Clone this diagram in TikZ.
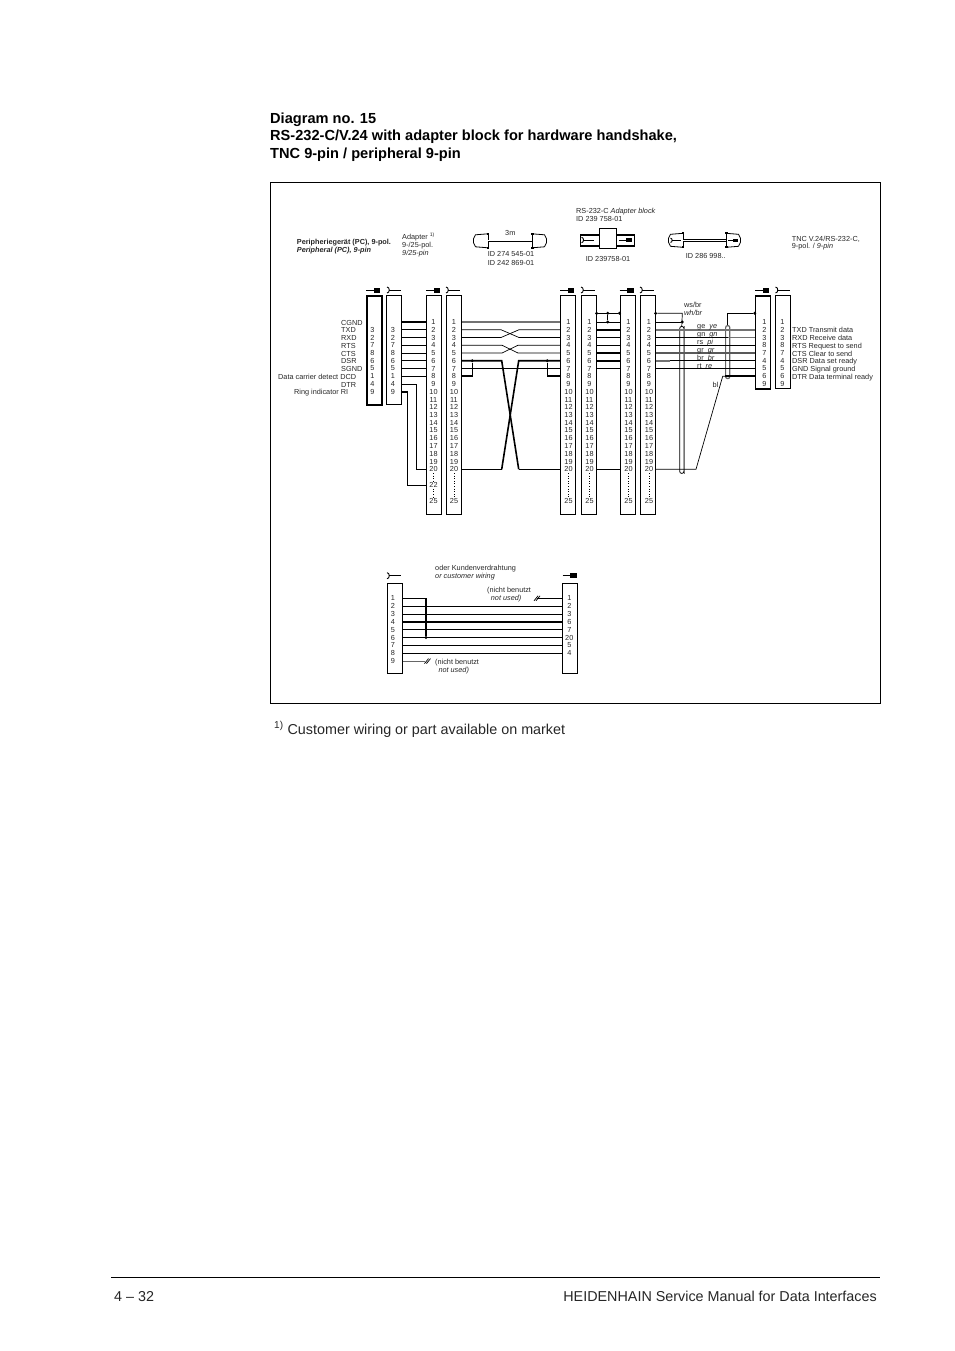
\documentclass[tikz,border=0pt]{standalone}
\usepackage{fontspec}
\setmainfont{Liberation Sans}
\usetikzlibrary{calc}

\newcommand{\smallsize}{\fontsize{7.3}{8.5}\selectfont}

\tikzset{
  malecon/.pic={
    \draw[line width=.9pt] (0,0) -- (8,0);
    \fill (7.5,-2.5) rectangle (14,2.5);
  },
  femalecon/.pic={
    \draw[line width=.9pt] (0,-3) .. controls (3,-3) and (3,3) .. (0,3);
    \draw[line width=.9pt] (2.3,0) -- (14,0);
  },
  cableplug/.pic={
    \draw[line width=.8pt] (15,-7) -- (2.5,-6) -- (.5,-2) -- (.5,2) -- (2.5,6) -- (15,7);
    \draw[line width=.8pt] (15,-7) -- (15,7);
    \fill (13.5,-8) rectangle (16,-6);
    \fill (13.5,6) rectangle (16,8);
  },
}

\begin{document}
\begin{tikzpicture}[
      x=1pt,y=-1pt,
      every node/.style={font=\smallsize,inner sep=0pt,text=black!85},
      pagetext/.style={anchor=mid west,yshift=-2.5pt,font=\fontsize{14.35}{17}\selectfont},
      pagehead/.style={anchor=mid west,yshift=-2.5pt,font=\fontsize{14.6}{17}\selectfont\bfseries,text=black},
      sigtext/.style={anchor=mid west,yshift=-.5pt},
      pinnum/.style={anchor=center},
      pinbox/.style={draw,line width=1.1pt,anchor=north west,minimum width=15pt,text=black},
      dot/.style={circle,fill=black,minimum size=3.2pt},
      shield/.style={draw,rounded corners=2pt,line width=.8pt,anchor=north west,minimum width=4.2pt},
      wire/.style={line width=.7pt},
      wirethick/.style={line width=1.6pt},
      wiregray/.style={line width=1.5pt,black!55},
      ]
    \useasboundingbox (0,0) rectangle (954,1351);

    % Page text
    \node[pagehead] (head1) at (270,118) {Diagram no. 15};
    \node[pagehead] (head2) at (270,135.5) {RS-232-C/V.24 with adapter block for hardware handshake,};
    \node[pagehead] (head3) at (270,153) {TNC 9-pin / peripheral 9-pin};
    \node[draw,line width=.8pt,anchor=north west,minimum width=609.5pt,minimum height=520.5pt] (frame) at (270,182) {};
    \node[pagetext] (footnote) at (274,729) {\textsuperscript{1)} Customer wiring or part available on market};
    \node[pagetext] (pageno) at (114,1296) {4 – 32};
    \node[pagetext,anchor=mid east] (manual) at (877,1296) {HEIDENHAIN Service Manual for Data Interfaces};
    \coordinate (ruleL) at (111,1277);
    \coordinate (ruleR) at (879.5,1277);
    \draw[line width=.8pt] (ruleL) -- (ruleR);

    % Position the pin rows
    \foreach \n in {1,...,20} {
      \pgfmathsetmacro\rowy{322+(\n-1)*7.75}
      \coordinate (r\n) at (0,\rowy);
    }
    \coordinate (r22) at (0,485);
    \coordinate (r25) at (0,501);

    % Position the boxes
    \node[pinbox,line width=2pt,minimum height=109pt] (boxA) at (366,295) {};
    \node[pinbox,minimum height=109pt] (boxB) at (386,295) {};
    \node[pinbox,minimum height=219pt] (boxC) at (425.7,295) {};
    \node[pinbox,minimum height=219pt] (boxD) at (445.7,295) {};
    \node[pinbox,minimum height=219pt] (boxE) at (560,295) {};
    \node[pinbox,minimum height=219pt] (boxF) at (580.5,295) {};
    \node[pinbox,minimum height=219pt] (boxG) at (619.5,295) {};
    \node[pinbox,minimum height=219pt] (boxH) at (639.5,295) {};
    \node[pinbox,line width=1.7pt,minimum height=93pt] (boxI) at (754.7,295) {};
    \node[pinbox,minimum height=93pt] (boxJ) at (774.7,295) {};
    \node[pinbox,minimum height=89.5pt] (boxK) at (386.5,583.3) {};
    \node[pinbox,minimum height=89.5pt] (boxL) at (561.7,583.3) {};

    % Connector signs
    \pic at (366,290) {malecon};
    \pic at (387,290) {femalecon};
    \pic at (426,290) {malecon};
    \pic at (446,290) {femalecon};
    \pic at (560,290) {malecon};
    \pic at (581,290) {femalecon};
    \pic at (619.5,290) {malecon};
    \pic at (640,290) {femalecon};
    \pic at (755,290) {malecon};
    \pic at (775.5,290) {femalecon};
    \pic at (387,575.7) {femalecon};
    \pic at (562.5,575.7) {malecon};

    % Pin numbers
    \foreach \b/\x in {C/433.5,D/454,E/568.5,F/589.5,G/628.5,H/649} {
      \foreach \n in {1,...,20}
        \node[pinnum] (\b\n) at (\x,0 |- r\n) {\n};
      \node[pinnum] (\b25) at (\x,0 |- r25) {25};
    }
    \node[pinnum] (C22) at (433.5,0 |- r22) {22};
    \draw[dotted,line width=.6pt,shorten >=1pt,shorten <=1pt] (C20.south) -- (C22.north);
    \draw[dotted,line width=.6pt,shorten >=1pt,shorten <=1pt] (C22.south) -- (C25.north);
    \foreach \b in {D,E,F,G,H}
      \draw[dotted,line width=.6pt,shorten >=1pt,shorten <=1pt] (\b20.south) -- (\b25.north);

    \foreach \p [count=\n from 2] in {3,2,7,8,6,5,1,4,9} {
      \node[pinnum] (A\n) at (372.5,0 |- r\n) {\p};
      \node[pinnum] (B\n) at (393,0 |- r\n) {\p};
    }
    \foreach \p [count=\n from 1] in {1,2,3,8,7,4,5,6,9} {
      \node[pinnum] (I\n) at (764.5,0 |- r\n) {\p};
      \node[pinnum] (J\n) at (782.5,0 |- r\n) {\p};
    }

    % Signal names
    \foreach \t [count=\n from 1] in {CGND,TXD,RXD,RTS,CTS,DSR,SGND} 
      \node[sigtext] (sigL\n) at (341,0 |- r\n) {\t};
    \node[sigtext] (sigL8) at (278,0 |- r8) {Data carrier detect DCD};
    \node[sigtext] (sigL9) at (341,0 |- r9) {DTR};
    \node[sigtext] (sigL10) at (294,0 |- r10) {Ring indicator RI};
    \foreach \t [count=\n from 2] in {TXD Transmit data,RXD Receive data,RTS Request to send,CTS Clear to send,DSR Data set ready,GND Signal ground,DTR Data terminal ready}
      \node[sigtext] (sigR\n) at (792,0 |- r\n) {\t};

    % Top captions
    \node[sigtext,font=\smallsize\bfseries] (periA) at (296.7,241.5) {Peripheriegerät (PC), 9-pol.};
    \node[sigtext,font=\smallsize\bfseries\itshape] (periB) at (296.7,249) {Peripheral (PC), 9-pin};
    \node[sigtext] (adaA) at (402,236.5) {Adapter \textsuperscript{1)}};
    \node[sigtext] (adaB) at (402,244.5) {9-/25-pol.};
    \node[sigtext,font=\smallsize\itshape] (adaC) at (402,252.7) {9/25-pin};
    \node[sigtext] (len) at (505,232) {3m};
    \node[sigtext] (idA) at (487.7,253.5) {ID 274 545-01};
    \node[sigtext] (idB) at (487.7,262) {ID 242 869-01};
    \node[sigtext] (blockA) at (576,210) {RS-232-C \textit{Adapter block}};
    \node[sigtext] (blockB) at (576,218) {ID 239 758-01};
    \node[sigtext] (idC) at (585.7,258) {ID 239758-01};
    \node[sigtext] (idD) at (685.7,255) {ID 286 998..};
    \node[sigtext] (tncA) at (791.7,238) {TNC V.24/RS-232-C,};
    \node[sigtext] (tncB) at (791.7,245.7) {9-pol. / \textit{9-pin}};

    % Cables and adapter block
    \pic at (473,240.8) {cableplug};
    \pic[xscale=-1] at (547,240.8) {cableplug};
    \coordinate (cabAl) at (488,240.8);
    \coordinate (cabAr) at (532,240.8);
    \draw[line width=2.6pt] (cabAl) -- (cabAr);
    \draw[white,line width=1pt] (cabAl) -- (cabAr);
    \pic at (668,240.3) {cableplug};
    \pic[xscale=-1] at (741,240.3) {cableplug};
    \coordinate (cabBl) at (683,240.3);
    \coordinate (cabBr) at (726,240.3);
    \draw[line width=2.6pt] (cabBl) -- (cabBr);
    \draw[white,line width=1pt] (cabBl) -- (cabBr);
    \pic[scale=.72] at (670.5,240.3) {femalecon};
    \pic[scale=.72] at (728,240.3) {malecon};
    \node[draw,line width=.8pt,anchor=north west,minimum width=19pt,minimum height=10pt] (stubL) at (580,235) {};
    \node[draw,line width=.8pt,anchor=north west,minimum width=18.5pt,minimum height=10pt] (stubR) at (615.7,235) {};
    \draw[line width=1.5pt] (stubL.north west) -- (stubL.north east) (stubL.south west) -- (stubL.south east);
    \draw[line width=1.5pt] (stubR.north west) -- (stubR.north east) (stubR.south west) -- (stubR.south east);
    \node[draw,fill=white,line width=.8pt,anchor=north west,minimum width=16.7pt,minimum height=20pt] (block) at (599,228) {};
    \pic[scale=.9] at (581.5,240) {femalecon};
    \pic[scale=.9] at (619,240) {malecon};

    % Draw the wires, peripheral to adapter
    \draw[wirethick] (boxB.east |- r1) -- (boxC.west |- r1);
    \foreach \n in {2,...,8}
      \draw[wire] (boxB.east |- r\n) -- (boxC.west |- r\n);
    \draw[wire] (boxB.east |- r9) -- (416.7,0 |- r9) -- (416.7,0 |- r20) -- (boxC.west |- r20);
    \draw[wirethick] (boxB.east |- r10) -- (407.7,0 |- r10);
    \draw[wire] (407.7,0 |- r10) -- (407.7,0 |- r22) -- (boxC.west |- r22);

    % Draw the wires, cable in the middle
    \draw[wiregray] (boxD.east |- r1) -- (boxE.west |- r1);
    \draw[wire] (boxD.east |- r2) -- (501,0 |- r2) -- (519,0 |- r3) -- (boxE.west |- r3);
    \draw[wire] (boxD.east |- r3) -- (501,0 |- r3) -- (519,0 |- r2) -- (boxE.west |- r2);
    \draw[wire] (boxD.east |- r4) -- (502,0 |- r4) -- (518,0 |- r5) -- (boxE.west |- r5);
    \draw[wire] (boxD.east |- r5) -- (502,0 |- r5) -- (518,0 |- r4) -- (boxE.west |- r4);
    \draw[wire] (boxD.east |- r7) -- (boxE.west |- r7);
    \draw[wirethick] (boxD.east |- r6) -- (501.7,0 |- r6) -- (518.7,0 |- r20);
    \draw[wirethick] (boxE.west |- r6) -- (518.7,0 |- r6) -- (501.7,0 |- r20);
    \draw[wire] (boxD.east |- r20) -- (501.7,0 |- r20);
    \draw[wire] (boxE.west |- r20) -- (518.7,0 |- r20);
    \node[dot] (bridgeL) at (472.3,0 |- r6) {};
    \node[dot] (bridgeR) at (547.3,0 |- r6) {};
    \draw[wirethick] (boxD.east |- r8) -| (bridgeL);
    \draw[wirethick] (boxE.west |- r8) -| (bridgeR);

    % Draw the wires, adapter block to cable
    \coordinate (gnd) at (0,313.3);
    \node[dot] (gndF) at (boxF.east |- gnd) {};
    \node[dot] (gndG) at (boxG.west |- gnd) {};
    \node[dot] (gndM) at (607.7,0 |- gnd) {};
    \node[dot] (gndN) at (607.7,0 |- r1) {};
    \draw[wire] (gndF) -- (gndG);
    \draw[wirethick,line width=1.1pt] (gndM) -- (gndN);
    \draw[wire] (boxF.east |- r1) -- (boxG.west |- r1);
    \foreach \n in {2,3,5,6}
      \draw[wirethick] (boxF.east |- r\n) -- (boxG.west |- r\n);
    \foreach \n in {4,7,20}
      \draw[wire] (boxF.east |- r\n) -- (boxG.west |- r\n);

    % Draw the wires, cable to TNC
    \node[dot] (shH) at (boxH.east |- gnd) {};
    \node[dot] (shI) at (boxI.west |- gnd) {};
    \node[shield,minimum height=147pt] (shieldL) at (679.3,326) {};
    \node[shield,draw=black!60,line width=1.2pt,minimum height=53pt] (shieldR) at (725,325) {};
    \node[dot] (shJ) at (682.3,0 |- r1) {};
    \draw[wire] (shH) -- (682.3,0 |- gnd) -- (shieldL.north);
    \draw[wire] (boxH.east |- r1) -- (shJ);
    \draw[wire] (shI) -- (shieldR.north |- gnd) -- (shieldR.north);
    \draw[wiregray] (shieldL.north east) -- (shieldL.south east);
    \draw[wiregray] (boxH.east |- r2) -- (boxI.west |- r2);
    \draw[wire] (boxH.east |- r3) -- (boxI.west |- r3);
    \draw[wiregray] (728,0 |- r3) -- (boxI.west |- r3);
    \draw[wire] (boxH.east |- r4) -- (boxI.west |- r4);
    \draw[wiregray,black!65,line width=1.1pt] (boxH.east |- r5) -- (boxI.west |- r5);
    \draw[wiregray] (boxH.east |- r6) -- (670,0 |- r6);
    \draw[wire] (670,0 |- r6) -- (boxI.west |- r6);
    \draw[wire] (boxH.east |- r7) -- (boxI.west |- r7);
    \draw[wire] (boxH.east |- r20) -- (696,0 |- r20) -- (722.7,0 |- r8) -- (shieldR.west |- r8);
    \draw[wirethick] (shieldR.west |- r8) -- (boxI.west |- r8);
    \node[sigtext] (wsbr) at (684,304) {ws/br};
    \node[sigtext,font=\smallsize\itshape] (whbr) at (684,312.3) {wh/br};
    \node[sigtext] (bl) at (712.3,384.3) {bl};
    \foreach \a/\c [count=\n from 1] in {ge/ye,gn/gn,rs/pi,gr/gr,br/br,rt/re} {
      \pgfmathsetmacro\rowy{325.5+(\n-1)*7.9}
      \node[sigtext] (col\n) at (697,\rowy) {\a\ \ \textit{\c}};
    }

    % Customer wiring
    \node[sigtext] (custA) at (435,567) {oder Kundenverdrahtung};
    \node[sigtext,font=\smallsize\itshape] (custB) at (435,575) {or customer wiring};
    \foreach \p [count=\n from 1] in {1,...,9} {
      \pgfmathsetmacro\rowy{598.3+(\n-1)*7.85}
      \coordinate (k\n) at (0,\rowy);
      \node[pinnum] (K\n) at (393,\rowy) {\p};
    }
    \foreach \p [count=\n from 1] in {1,2,3,6,7,20,5,4}
      \node[pinnum] (L\n) at (569.3,0 |- k\n) {\p};
    \foreach \n in {2,3,5,6,8}
      \draw[wire] (boxK.east |- k\n) -- (boxL.west |- k\n);
    \foreach \n in {4,7}
      \draw[wirethick] (boxK.east |- k\n) -- (boxL.west |- k\n);
    \node[dot] (tieK) at (426,0 |- k6) {};
    \draw[wire] (boxK.east |- k1) -- (426,0 |- k1);
    \draw[wirethick,line width=1.2pt] (426,0 |- k1) -- (tieK);
    \coordinate (cutA) at (536.5,0 |- k1);
    \draw[wire] (boxL.west |- k1) -- (cutA);
    \draw[wire] (cutA) ++(-2.5,2.5) -- ++(4,-5) (cutA) ++(-.5,2.5) -- ++(4,-5);
    \coordinate (cutB) at (425,0 |- k9);
    \draw[wire,black!60] (boxK.east |- k9) -- (cutB);
    \draw[wire] (cutB) ++(-.5,2.5) -- ++(4,-5) (cutB) ++(1.5,2.5) -- ++(4,-5);
    \node[sigtext] (nbA) at (487,589) {(nicht benutzt};
    \node[sigtext,font=\smallsize\itshape] (nuA) at (490.7,597.7) {not used)};
    \node[sigtext] (nbB) at (435,661) {(nicht benutzt};
    \node[sigtext,font=\smallsize\itshape] (nuB) at (438.3,669) {not used)};

  \end{tikzpicture}
\end{document}
